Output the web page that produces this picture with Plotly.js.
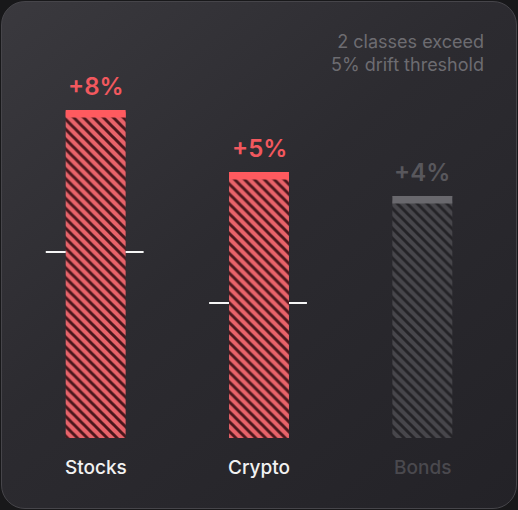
<!DOCTYPE html>
<html>
<head>
<meta charset="utf-8">
<script src="https://cdn.plot.ly/plotly-3.0.1.min.js"></script>
<style>
  html, body { margin: 0; padding: 0; background: #18181a; }
  #wrap { position: relative; width: 518px; height: 510px; overflow: hidden; }
  #card { position: absolute; left: 1px; top: 1px; right: 1px; bottom: 1px;
          border-radius: 24px; border: 1px solid #46454a;
          background: linear-gradient(140deg, #3a393e 0%, #2c2b30 45%, #232227 100%); }
  #chart { position: absolute; left: 0; top: 0; width: 518px; height: 510px; }
</style>
</head>
<body>
<div id="wrap"><div id="card"></div><div id="chart"></div></div>
<script>
// Data
const categories = ["Stocks", "Crypto", "Bonds"];
const currentAlloc = [82, 66.5, 60.5];      // current weight (axis units)
const targetAlloc = [46.5, 33.75, null];     // target weight markers
const driftLabels = ["+8%", "+5%", "+4%"];
const exceeds = [true, true, false];
const noteLines = ["2 classes exceed", "5% drift threshold"];

const capSize = 1.9;
const barWidth = 0.367;
const idx = categories.map((_, i) => i);

const hatchBg = exceeds.map(e => e ? "#e8636a" : "#47464b");
const hatchFg = exceeds.map(e => e ? "#4a161b" : "#242327");
const capColor = exceeds.map(e => e ? "#ff5a5f" : "#69686d");
const labelColor = exceeds.map(e => e ? "#f2585e" : "#58575c");
const catColor = exceeds.map(e => e ? "#f2f2f2" : "#4a494e");

const traces = [];
idx.forEach(i => {
  traces.push({
    type: "bar", x: [i], y: [currentAlloc[i]], width: barWidth,
    marker: { color: hatchBg[i], line: { width: 0 },
      pattern: { shape: "\\", fillmode: "replace", bgcolor: hatchBg[i], fgcolor: hatchFg[i],
                 fgopacity: 1, size: 7, solidity: 0.42 } },
    hoverinfo: "skip"
  });
});
traces.push({
  type: "bar", x: idx, y: currentAlloc.map(() => capSize),
  base: currentAlloc.map(v => v - capSize), width: barWidth,
  marker: { color: capColor, line: { width: 0 } }, hoverinfo: "skip"
});

// target marker lines on both sides of each bar
const tx = [], ty = [];
idx.forEach(i => {
  const t = targetAlloc[i];
  if (t === null) return;
  const h = barWidth / 2;
  tx.push(i - h - 0.122, i - h, null, i + h, i + h + 0.11, null);
  ty.push(t, t, null, t, t, null);
});
traces.push({ type: "scatter", mode: "lines", x: tx, y: ty,
  line: { color: "#f5f5f5", width: 2 }, hoverinfo: "skip", connectgaps: false });

const annotations = [];
idx.forEach(i => {
  annotations.push({ x: i, y: currentAlloc[i], xref: "x", yref: "y",
    text: driftLabels[i], showarrow: false, yanchor: "middle", yshift: 24,
    font: { family: "Inter, Roboto, sans-serif", size: 24, color: labelColor[i], weight: 600 } });
  annotations.push({ x: i, y: 0, xref: "x", yref: "y",
    text: categories[i], showarrow: false, yanchor: "middle", yshift: -29,
    font: { family: "Inter, Roboto, sans-serif", size: 19, color: catColor[i], weight: 500 } });
});
annotations.push({ x: 0.963, y: 1, xref: "paper", yref: "paper", xanchor: "right", yanchor: "middle",
  align: "right", yshift: -15, showarrow: false, text: noteLines.join("<br>"),
  font: { family: "Inter, Roboto, sans-serif", size: 18, color: "#6d6c71" } });

const layout = {
  width: 518, height: 510,
  margin: { l: 14, r: 14, t: 38, b: 72, pad: 0 },
  paper_bgcolor: "rgba(0,0,0,0)", plot_bgcolor: "rgba(0,0,0,0)",
  barmode: "overlay", showlegend: false,
  xaxis: { range: [-0.5, 2.5], visible: false, fixedrange: true },
  yaxis: { range: [0, 100], visible: false, fixedrange: true },
  annotations: annotations
};

Plotly.newPlot("chart", traces, layout, { displayModeBar: false, staticPlot: true });
</script>
</body>
</html>
